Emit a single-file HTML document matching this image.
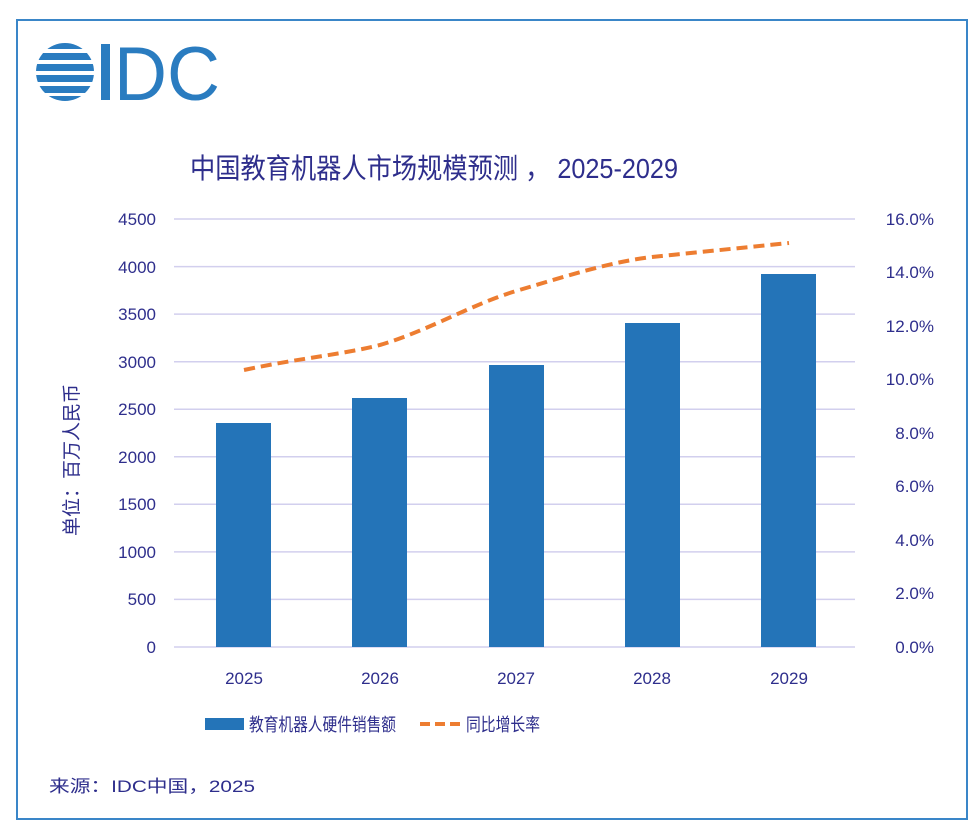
<!DOCTYPE html>
<html><head><meta charset="utf-8"><style>
html,body{margin:0;padding:0;background:#fff;}
svg{display:block;}
text{font-family:"Liberation Sans","Noto Sans CJK SC",sans-serif;fill:#2e2e8c;}
</style></head><body>
<svg width="978" height="828" viewBox="0 0 978 828" xmlns="http://www.w3.org/2000/svg">
<rect x="0" y="0" width="978" height="828" fill="#fff"/>
<rect x="17" y="20" width="950" height="799" fill="none" stroke="#3a86c8" stroke-width="2"/>
<!-- logo -->
<g fill="#2a7cc0">
<clipPath id="c"><circle cx="65" cy="72" r="29"/></clipPath>
<g clip-path="url(#c)">
<rect x="36" y="43" width="60" height="6"/>
<rect x="36" y="53" width="60" height="7"/>
<rect x="36" y="64" width="60" height="7"/>
<rect x="36" y="75" width="60" height="7"/>
<rect x="36" y="86" width="60" height="7"/>
<rect x="36" y="96" width="60" height="6"/>
</g>
<rect x="101" y="44" width="9" height="56"/>
</g>
<text x="114" y="100" font-size="76" style="fill:#2a7cc0" textLength="106" lengthAdjust="spacingAndGlyphs">DC</text>
<!-- title -->
<text x="190" y="178" font-size="28" textLength="488" lengthAdjust="spacingAndGlyphs">中国教育机器人市场规模预测 ， 2025-2029</text>
<!-- grid -->
<g stroke="#d2cfee" stroke-width="1.5">
<line x1="174" x2="855" y1="219" y2="219"/>
<line x1="174" x2="855" y1="266.6" y2="266.6"/>
<line x1="174" x2="855" y1="314.1" y2="314.1"/>
<line x1="174" x2="855" y1="361.7" y2="361.7"/>
<line x1="174" x2="855" y1="409.2" y2="409.2"/>
<line x1="174" x2="855" y1="456.8" y2="456.8"/>
<line x1="174" x2="855" y1="504.3" y2="504.3"/>
<line x1="174" x2="855" y1="551.9" y2="551.9"/>
<line x1="174" x2="855" y1="599.4" y2="599.4"/>
<line x1="174" x2="855" y1="647" y2="647"/>
</g>
<g font-size="17" text-anchor="end">
<text x="156" y="225">4500</text>
<text x="156" y="273">4000</text>
<text x="156" y="320">3500</text>
<text x="156" y="368">3000</text>
<text x="156" y="415">2500</text>
<text x="156" y="463">2000</text>
<text x="156" y="510">1500</text>
<text x="156" y="558">1000</text>
<text x="156" y="605">500</text>
<text x="156" y="653">0</text>
</g>
<g font-size="17" text-anchor="end">
<text x="934" y="225">16.0%</text>
<text x="934" y="278">14.0%</text>
<text x="934" y="332">12.0%</text>
<text x="934" y="385">10.0%</text>
<text x="934" y="439">8.0%</text>
<text x="934" y="492">6.0%</text>
<text x="934" y="546">4.0%</text>
<text x="934" y="599">2.0%</text>
<text x="934" y="653">0.0%</text>
</g>
<text transform="translate(78,460) rotate(-90)" font-size="19" text-anchor="middle">单位：百万人民币</text>
<!-- bars -->
<g fill="#2474b8">
<rect x="216" y="423" width="55" height="224"/>
<rect x="352" y="398" width="55" height="249"/>
<rect x="489" y="365" width="55" height="282"/>
<rect x="625" y="323" width="55" height="324"/>
<rect x="761" y="274" width="55" height="373"/>
</g>
<path d="M244,370 C300,358 340,355 380,345 C430,330 470,305 516,291 C570,275 610,262 652,257 C700,252 750,247 789,243" fill="none" stroke="#ed7d31" stroke-width="4" stroke-dasharray="11,6"/>
<g font-size="17" text-anchor="middle">
<text x="244" y="684">2025</text>
<text x="380" y="684">2026</text>
<text x="516" y="684">2027</text>
<text x="652" y="684">2028</text>
<text x="789" y="684">2029</text>
</g>
<!-- legend -->
<rect x="205" y="718" width="39" height="12" fill="#2474b8"/>
<text x="249" y="731" font-size="18" textLength="147" lengthAdjust="spacingAndGlyphs">教育机器人硬件销售额</text>
<line x1="420" x2="462" y1="724" y2="724" stroke="#ed7d31" stroke-width="4" stroke-dasharray="10,5"/>
<text x="466" y="731" font-size="18" textLength="74" lengthAdjust="spacingAndGlyphs">同比增长率</text>
<text x="49" y="792" font-size="17" textLength="206" lengthAdjust="spacingAndGlyphs">来源：IDC中国，2025</text>
</svg>
</body></html>
